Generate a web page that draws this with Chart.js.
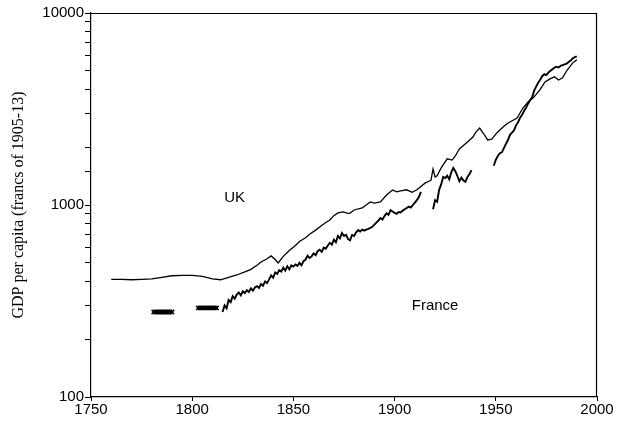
<!DOCTYPE html>
<html>
<head>
<meta charset="utf-8">
<script src="https://cdn.jsdelivr.net/npm/chart.js@4/dist/chart.umd.min.js"></script>
<style>
html,body{margin:0;padding:0;background:#fff;}
canvas{display:block;}
</style>
</head>
<body>
<canvas id="c" width="617" height="423"></canvas>
<script>
// ---- data ----
const ukYears = [1760,1765,1770,1775,1780,1785,1790,1795,1800,1805,1810,1814,1818,1822,1826,1829,1832,1834,1837,1839,1841,1842.5,1845,1848,1851,1853,1856,1858,1861,1863,1866,1868,1870,1872,1874.5,1877,1878,1880,1884,1888,1890,1893,1896,1899,1901,1903,1906,1908.6,1911,1913,1915,1917,1918,1919,1920,1921,1923,1926,1928.4,1930,1932,1934,1936,1938.7,1940,1942,1944,1946,1948,1950.6,1953.6,1955.5,1957,1960.5,1963.4,1965.9,1968.4,1971.8,1974.3,1977,1979,1981,1983,1985,1988,1990];
const ukValues = [410,410,408,410,412,420,428,430,430,425,412,408,420,432,448,462,485,505,525,543,520,499,540,580,615,645,675,705,740,768,810,836,880,910,920,905,908,942,965,1037,1023,1037,1128,1197,1170,1183,1200,1165,1200,1250,1300,1330,1350,1540,1400,1420,1560,1740,1713,1800,1960,2040,2130,2260,2380,2516,2350,2182,2200,2380,2548,2650,2705,2838,3200,3438,3605,3975,4375,4550,4650,4480,4600,5000,5500,5700];

const frYears = [1815,1816,1817,1818,1819,1820,1821,1822,1823,1824,1825,1826,1827,1828,1829,1830,1831,1832,1833,1834,1835,1836,1837,1838,1839,1840,1841,1842,1843,1844,1845,1846,1847,1848,1849,1850,1851,1852,1853,1854,1855,1856,1857,1858,1859,1860,1861,1862,1863,1864,1865,1866,1867,1868,1869,1870,1871,1872,1873,1874,1875,1876,1877,1878,1879,1880,1881,1882,1883,1884,1885,1886,1887,1888,1889,1890,1891,1892,1893,1894,1895,1896,1897,1898,1899,1900,1901,1902,1903,1904,1905,1906,1907,1908,1909,1910,1911,1912,1913,
  1916,
  1919,1920,1921,1922,1923,1924,1925,1926,1927,1928,1929,1930,1931,1932,1933,1934,1935,1936,1937,1938,
  1943,
  1949,1950,1951,1952,1953,1954,1955,1956,1957,1958,1959,1960,1961,1962,1963,1964,1965,1966,1967,1968,1969,1970,1971,1972,1973,1974,1975,1976,1977,1978,1979,1980,1981,1982,1983,1984,1985,1986,1987,1988,1989,1990];
const frValues = [277,300,290,320,312,335,325,342,350,338,355,348,360,352,368,358,372,378,370,388,380,400,392,410,430,418,445,438,458,450,472,455,480,462,485,478,490,482,500,485,510,520,545,530,540,560,548,575,585,570,600,592,615,635,622,660,640,690,670,714,690,700,665,655,698,690,720,740,728,745,735,745,752,760,770,790,810,830,855,840,875,905,890,940,925,910,900,920,915,935,950,965,980,970,1000,1030,1060,1100,1170,
  null,
  950,1060,1040,1200,1280,1400,1380,1420,1360,1480,1560,1500,1420,1330,1390,1340,1320,1400,1450,1520,
  null,
  1600,1720,1800,1860,1880,1980,2080,2180,2320,2380,2450,2600,2700,2850,2950,3100,3220,3380,3520,3650,3950,4150,4350,4500,4700,4800,4750,4900,5000,5100,5200,5250,5200,5300,5350,5400,5450,5550,5650,5800,5900,5950];

const frEarlyYears = [1781,1782,1783,1784,1785,1786,1787,1788,1789,1790,null,1803,1804,1805,1806,1807,1808,1809,1810,1811,1812];
const frEarlyValues = [277,277,277,277,277,277,277,277,277,277,null,291,291,291,291,291,291,291,291,291,291];

const xTicks = [1750,1800,1850,1900,1950,2000];
const yLabelTicks = [100,1000,10000];

const seriesLabels = ['UK','France'];
const labelYears = [1821,1920];
const labelValues = [1090,300];

// ---- build ----
const pts = (xs, ys) => xs.map((x,i)=> x===null ? {x:NaN, y:null} : {x:x, y:ys[i]});

const boxPlugin = {
  id:'box',
  afterDraw(chart){
    const {ctx, chartArea:a, scales} = chart;
    ctx.save();
    ctx.strokeStyle='#000'; ctx.lineWidth=1.2;
    ctx.beginPath();
    ctx.moveTo(a.left, a.top+0.5); ctx.lineTo(a.right, a.top+0.5);
    ctx.moveTo(a.right-0.5, a.top); ctx.lineTo(a.right-0.5, a.bottom);
    ctx.stroke();
    ctx.fillStyle='#000';
    ctx.font='15px "Liberation Sans", Arial, sans-serif';
    ctx.textAlign='center'; ctx.textBaseline='middle';
    seriesLabels.forEach((t,i)=>{
      ctx.fillText(t, scales.x.getPixelForValue(labelYears[i]), scales.y.getPixelForValue(labelValues[i]));
    });
    ctx.restore();
  }
};

new Chart(document.getElementById('c'), {
  type:'line',
  data:{
    datasets:[
      {data: pts(ukYears, ukValues), borderColor:'#000', borderWidth:1.3, pointRadius:0, tension:0, spanGaps:false},
      {data: pts(frYears, frValues), borderColor:'#000', borderWidth:1.9, pointRadius:0, tension:0, spanGaps:false},
      {data: pts(frEarlyYears, frEarlyValues), borderColor:'#000', borderWidth:1.5, pointRadius:3, pointStyle:'crossRot', pointBackgroundColor:'#000', pointBorderColor:'#000', pointBorderWidth:1.6, tension:0, spanGaps:false}
    ]
  },
  options:{
    responsive:false, animation:false,
    layout:{padding:{top:13,right:20,left:0,bottom:0}},
    plugins:{legend:{display:false}, tooltip:{enabled:false}},
    scales:{
      x:{
        type:'linear', min:1750, max:2000,
        afterBuildTicks(s){ s.ticks = xTicks.map(v=>({value:v})); },
        afterFit(s){ s.height = 26; },
        grid:{display:true, drawOnChartArea:false, drawTicks:true, tickLength:4, color:'#000'},
        border:{display:true, color:'#000', width:1.2},
        ticks:{color:'#000', padding:0, maxRotation:0, font:{family:'"Liberation Sans", Arial, sans-serif', size:15}, callback:(v)=>String(v)}
      },
      y:{
        type:'logarithmic', min:100, max:10000,
        afterFit(s){ s.width = 91; },
        grid:{display:true, drawOnChartArea:false, drawTicks:true, tickLength:6, color:'#000'},
        border:{display:true, color:'#000', width:1.2},
        title:{display:true, text:'GDP per capita (francs of 1905-13)', color:'#000', padding:{top:9,bottom:0}, font:{family:'"Liberation Serif", "Times New Roman", serif', size:16}},
        ticks:{color:'#000', padding:1, autoSkip:false, font:{family:'"Liberation Sans", Arial, sans-serif', size:15},
          callback:(v)=> yLabelTicks.includes(Math.round(v)) ? String(Math.round(v)) : ''}
      }
    }
  },
  plugins:[boxPlugin]
});
</script>
</body>
</html>
